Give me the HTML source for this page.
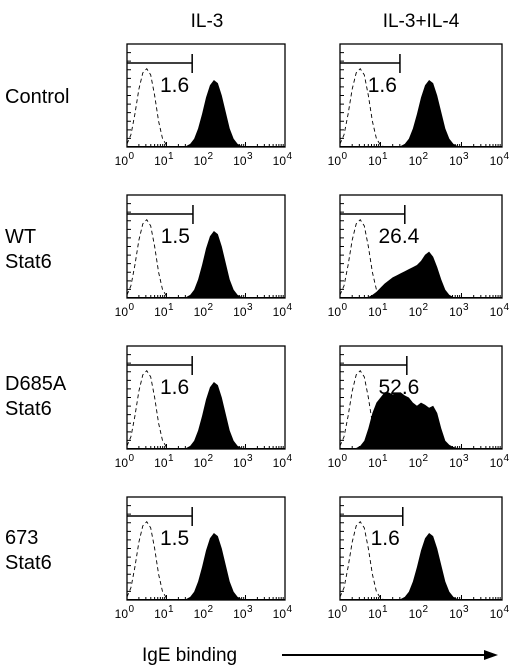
<!DOCTYPE html>
<html><head><meta charset="utf-8"><style>
body{margin:0;background:#fff;width:512px;height:671px;overflow:hidden;font-family:"Liberation Sans",sans-serif}
svg{display:block}
</style></head><body>
<svg id="fig" width="512" height="671" xmlns="http://www.w3.org/2000/svg" font-family="Liberation Sans, sans-serif">
<text x="207" y="27" font-size="19" text-anchor="middle">IL-3</text>
<text x="421" y="27" font-size="19" text-anchor="middle">IL-3+IL-4</text>
<text x="5" y="103" font-size="20">Control</text>
<text x="5" y="243" font-size="20">WT</text>
<text x="5" y="268" font-size="20">Stat6</text>
<text x="5" y="390" font-size="20">D685A</text>
<text x="5" y="415" font-size="20">Stat6</text>
<text x="5" y="544" font-size="20">673</text>
<text x="5" y="569" font-size="20">Stat6</text>
<text x="142" y="661" font-size="19">IgE binding</text>
<line x1="282" y1="655" x2="488" y2="655" stroke="#000" stroke-width="2"/>
<polygon points="498,655 484,650 484,660" fill="#000"/>
</svg>
<script>
// Histogram heights (fraction of panel height) at 0.1-decade bins, log10 = 0..4
const standardFilled=[.01,.01,.01,.01,.01,.01,.01,.01,.01,.01,.01,.01,.01,.01,.01,.01,.03,.08,.18,.32,.48,.6,.65,.62,.5,.34,.18,.08,.03,.01,.01,.01,.01,.01,.01,.01,.01,.01,.01,.01,.01];
const wtIl4Filled=[.01,.01,.01,.01,.01,.01,.01,.01,.03,.06,.1,.14,.17,.2,.22,.24,.26,.28,.3,.32,.36,.42,.45,.4,.3,.18,.08,.03,.01,.01,.01,.01,.01,.01,.01,.01,.01,.01,.01,.01,.01];
const d685aIl4Filled=[.01,.01,.01,.01,.01,.03,.08,.2,.35,.45,.5,.55,.55,.53,.54,.55,.52,.5,.45,.42,.45,.43,.4,.42,.35,.2,.08,.04,.02,.01,.01,.01,.01,.01,.01,.01,.01,.01,.01,.01,.01];
const isotypeDashed=[.03,.12,.32,.56,.72,.76,.7,.5,.25,.08,.02,0,0,0,0,0,0,0,0,0,0,0,0,0,0,0,0,0,0,0,0,0,0,0,0,0,0,0,0,0,0];
const gateEnds=[1.65,1.48,1.67,1.6,1.65,1.65,1.65,1.55];
const gateLabels=["1.6","1.6","1.5","26.4","1.6","52.6","1.5","1.6"];
const tickLabels=["0","1","2","3","4"];
const filledSets=[standardFilled,standardFilled,standardFilled,wtIl4Filled,standardFilled,d685aIl4Filled,standardFilled,standardFilled];
const panelNames=["control-il3","control-il3-il4","wt-il3","wt-il3-il4","d685a-il3","d685a-il3-il4","673-il3","673-il3-il4"];

const NS="http://www.w3.org/2000/svg";
const svg=document.getElementById('fig');
function mk(tag,attrs,parent){const e=document.createElementNS(NS,tag);for(const k in attrs)e.setAttribute(k,attrs[k]);(parent||svg).appendChild(e);return e;}
const colX=[127,340],colW=[158,162],rowY=[44,195,346,497],H=103;
for(let p=0;p<8;p++){
  const r=Math.floor(p/2),c=p%2;
  const x0=colX[c],w=colW[c],y0=rowY[r];
  const xs=v=>x0+v/4*w, ys=f=>y0+H-f*H;
  const g=mk('g',{});
  
  
  const box=mk('rect',{x:x0,y:y0,width:w,height:H,fill:'none',stroke:'#000','stroke-width':1.3},g);
  
  
  const fd=filledSets[p];
  let d='M'+xs(0)+','+ys(0);
  fd.forEach((v,i)=>{d+=' L'+xs(i/10)+','+ys(v);});
  d+=' L'+xs(4)+','+ys(0)+'Z';
  const fp=mk('path',{d:d,fill:'#000'},g);
  
  
  let dd='';
  isotypeDashed.forEach((v,i)=>{ if(i<12) dd+=(i?' L':'M')+xs(i/10)+','+ys(v);});
  const dp=mk('path',{d:dd,fill:'none',stroke:'#000','stroke-width':0.9,'stroke-dasharray':'4,3'},g);
  
  
  const gy=y0+19,gx=xs(gateEnds[p]);
  const gl=mk('path',{d:`M${x0},${gy} H${gx} M${gx},${gy-9} V${gy+10}`,stroke:'#000','stroke-width':1.5,fill:'none'},g);
  
  
  const lt=mk('text',{x:gx-3,y:y0+48,'font-size':21,'text-anchor':'end'},g);
  lt.textContent=gateLabels[p];
  if(gateLabels[p].length>3){lt.setAttribute('text-anchor','start');lt.setAttribute('x',xs(0.95));}
  
  
  let td='';
  for(let dec=0;dec<4;dec++){for(let m=1;m<10;m++){const lx=xs(dec+Math.log10(m));const L=m==1?5:3;td+=`M${lx},${y0+H} v${-L} `;}}
  for(let k=0;k<=12;k++){const yy=y0+H-k*H/12;td+=`M${x0},${yy} h4 `;}
  const tp=mk('path',{d:td,stroke:'#000','stroke-width':1},g);
  
  
  tickLabels.forEach((t,i)=>{
    const tt=mk('text',{x:xs(i)+1,y:y0+H+18,'font-size':12,'text-anchor':'end'},g);
    tt.textContent='10';
    
    
    const sp=mk('text',{x:xs(i)+1.5,y:y0+H+12,'font-size':10},g);
    sp.textContent=t;
    
    
  });
}
</script>
</body></html>
